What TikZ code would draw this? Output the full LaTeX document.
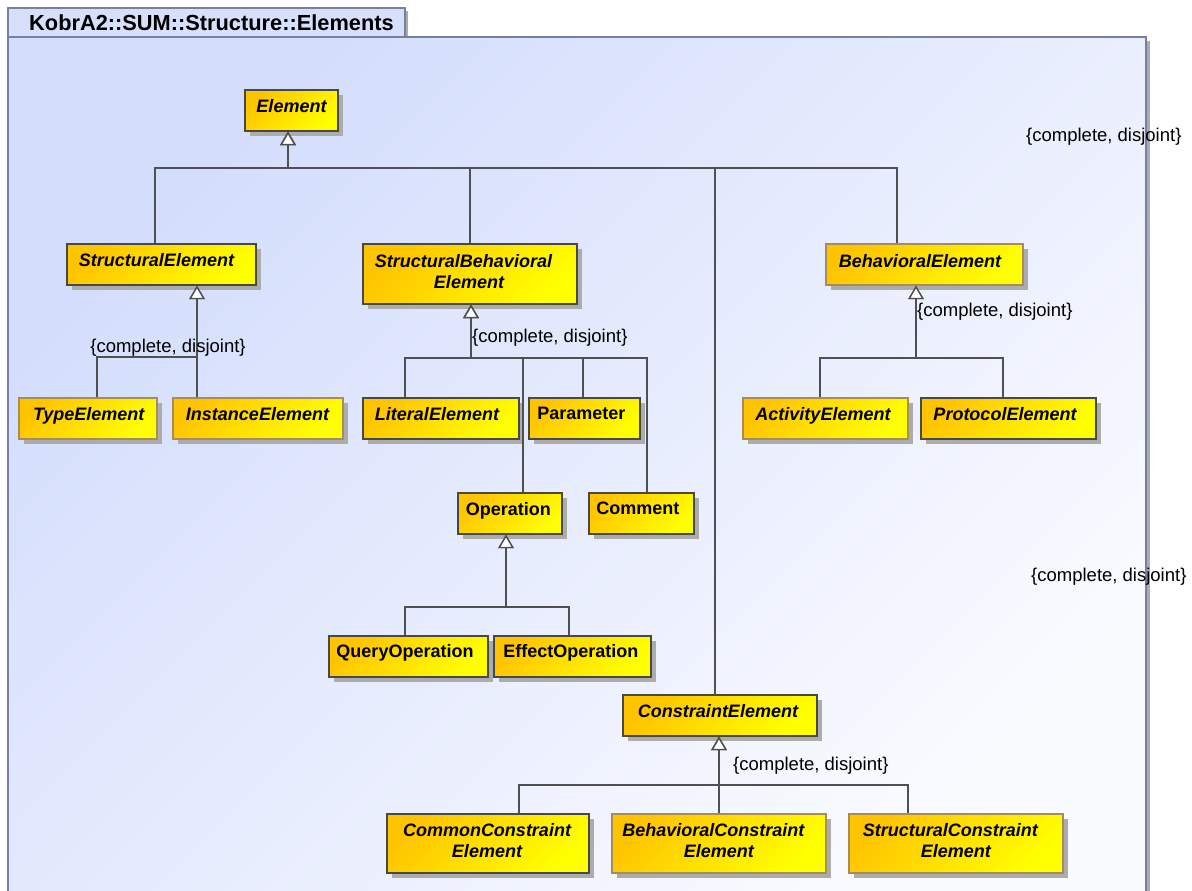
\documentclass[tikz,border=0pt]{standalone}
\usepackage{fontspec}
\setmainfont{Liberation Sans}
\usetikzlibrary{arrows.meta,shadows}

\definecolor{framefillA}{RGB}{211,221,252}
\definecolor{framefillB}{RGB}{250,251,255}
\definecolor{frameline}{RGB}{118,128,165}
\definecolor{tabfill}{RGB}{216,223,250}
\definecolor{boxA}{RGB}{255,196,0}
\definecolor{boxB}{RGB}{255,255,0}
\definecolor{edgedark}{RGB}{72,72,72}
\definecolor{edgebrown}{RGB}{168,140,88}
\definecolor{shadowgray}{RGB}{172,172,172}
\definecolor{linegray}{RGB}{80,80,80}

\tikzset{
  classbox/.style={draw=edgedark, line width=1.3pt, inner sep=0pt,
    top color=boxA, bottom color=boxB, shading angle=45,
    drop shadow={shadow xshift=5pt, shadow yshift=-5pt, fill=shadowgray, opacity=1}},
  brownedge/.style={draw=edgebrown},
  darkedge/.style={draw=edgedark},
  abstracttext/.style={font=\fontsize{18}{21.5}\selectfont\bfseries\itshape,
    inner sep=0pt, anchor=north, align=center},
  concretetext/.style={font=\fontsize{18}{21.5}\selectfont\bfseries,
    inner sep=0pt, anchor=north},
  gsetlabel/.style={font=\fontsize{18.5}{22}\selectfont, inner sep=0pt},
  gen/.style={draw=linegray, line width=1.4pt,
    -{Triangle[open, length=13.5pt, width=15.5pt, fill=white]}},
  branch/.style={draw=linegray, line width=1.4pt},
}

% class box from its corners: name, edge style, x1, y1, x2, y2
\newcommand\classnode[6]{%
  \node[classbox,#2, minimum width={(#5-#3)*1pt}, minimum height={(#6-#4)*1pt}]
    (#1) at ({(#3+#5)/2},{(#4+#6)/2}) {};}

\begin{document}
\begin{tikzpicture}[x=1pt,y=-1pt]
\useasboundingbox (0,0) rectangle (1192,891);
\clip (0,0) rectangle (1192,891);
\fill[white] (0,0) rectangle (1192,891);

% package frame
\fill[shadowgray] (1146,41) rectangle (1150,900);
\fill[shadowgray] (405,11) rectangle (408,37);
\path[top color=framefillA, bottom color=framefillB, shading angle=45,
      draw=frameline, line width=1.2pt] (8,37) rectangle (1146,900);
\path[fill=tabfill, draw=frameline, line width=1.2pt] (8,8) rectangle (405,37);
\node[font=\fontsize{21.8}{24}\selectfont\bfseries, anchor=west, inner sep=0pt]
  (frametitle) at (29,23) {KobrA2::SUM::Structure::Elements};

% classes
\classnode{element}{darkedge}{245}{90}{338}{131}
\classnode{strel}{darkedge}{67}{244}{256}{285}
\classnode{sbel}{darkedge}{363}{244}{577}{304}
\classnode{bhel}{brownedge}{826}{244}{1023}{285}
\classnode{typeel}{brownedge}{19}{398}{157}{439}
\classnode{instel}{brownedge}{173}{398}{343}{439}
\classnode{litel}{darkedge}{363}{398}{519}{439}
\classnode{param}{darkedge}{529}{398}{640}{439}
\classnode{actel}{brownedge}{743}{398}{908}{439}
\classnode{protel}{darkedge}{921}{398}{1096}{439}
\classnode{oper}{darkedge}{458}{493}{562}{534}
\classnode{comment}{darkedge}{589}{493}{694}{534}
\classnode{query}{darkedge}{329}{636}{488}{677}
\classnode{effect}{darkedge}{494}{636}{651}{677}
\classnode{constr}{darkedge}{623}{695}{817}{736}
\classnode{common}{darkedge}{387}{814}{589}{873}
\classnode{behconstr}{brownedge}{612}{814}{826}{873}
\classnode{strconstr}{brownedge}{849}{814}{1063}{873}

% class names
\node[abstracttext] (element-name) at (291.5,99) {Element};
\node[abstracttext] (strel-name) at (156.5,253) {StructuralElement};
\node[abstracttext] (sbel-name) at (469,254) {StructuralBehavioral\hspace*{11pt}\\Element};
\node[abstracttext] (bhel-name) at (920,254) {BehavioralElement};
\node[abstracttext] (typeel-name) at (88.7,407) {TypeElement};
\node[abstracttext] (instel-name) at (257.5,407) {InstanceElement};
\node[abstracttext] (litel-name) at (437,407) {LiteralElement};
\node[concretetext] (param-name) at (581.3,407) {Parameter};
\node[abstracttext] (actel-name) at (823,407) {ActivityElement};
\node[abstracttext] (protel-name) at (1005,407) {ProtocolElement};
\node[concretetext] (oper-name) at (508.3,502) {Operation};
\node[concretetext] (comment-name) at (637.8,502) {Comment};
\node[concretetext] (query-name) at (405,644) {QueryOperation};
\node[concretetext] (effect-name) at (570.8,644) {EffectOperation};
\node[abstracttext] (constr-name) at (718,704) {ConstraintElement};
\node[abstracttext] (common-name) at (487,823) {CommonConstraint\\Element};
\node[abstracttext] (behconstr-name) at (718.8,823) {BehavioralConstraint\hspace*{11pt}\\Element};
\node[abstracttext] (strconstr-name) at (955.8,823) {StructuralConstraint\hspace*{11pt}\\Element};

% generalization junctions
\coordinate (j-element) at (288,168);
\coordinate (j-strel) at (197,357);
\coordinate (j-sbel) at (471,358);
\coordinate (j-bhel) at (916,358);
\coordinate (j-oper) at (506,607);
\coordinate (j-constr) at (719,785);

% Element
\draw[gen] (155,0 |- strel.north) |- (j-element) -- (j-element |- element.south);
\draw[gen] (470,0 |- sbel.north) |- (j-element) -- (j-element |- element.south);
\draw[gen] (715,0 |- constr.north) |- (j-element) -- (j-element |- element.south);
\draw[gen] (897,0 |- bhel.north) |- (j-element) -- (j-element |- element.south);

% StructuralElement
\draw[gen] (97,0 |- typeel.north) |- (j-strel) -- (j-strel |- strel.south);
\draw[gen] (j-strel |- instel.north) -- (j-strel) -- (j-strel |- strel.south);

% StructuralBehavioralElement
\draw[gen] (405,0 |- litel.north) |- (j-sbel) -- (j-sbel |- sbel.south);
\draw[gen] (523,0 |- oper.north) |- (j-sbel) -- (j-sbel |- sbel.south);
\draw[gen] (583,0 |- param.north) |- (j-sbel) -- (j-sbel |- sbel.south);
\draw[gen] (647,0 |- comment.north) |- (j-sbel) -- (j-sbel |- sbel.south);

% BehavioralElement
\draw[gen] (820,0 |- actel.north) |- (j-bhel) -- (j-bhel |- bhel.south);
\draw[gen] (1003,0 |- protel.north) |- (j-bhel) -- (j-bhel |- bhel.south);

% Operation
\draw[gen] (405,0 |- query.north) |- (j-oper) -- (j-oper |- oper.south);
\draw[gen] (569,0 |- effect.north) |- (j-oper) -- (j-oper |- oper.south);

% ConstraintElement
\draw[gen] (519,0 |- common.north) |- (j-constr) -- (j-constr |- constr.south);
\draw[gen] (j-constr |- behconstr.north) -- (j-constr) -- (j-constr |- constr.south);
\draw[gen] (908,0 |- strconstr.north) |- (j-constr) -- (j-constr |- constr.south);

% generalization set constraints
\node[gsetlabel] (gs-strel) at (168,348) {\{complete, disjoint\}};
\node[gsetlabel, anchor=west] (gs-sbel) at (472,338) {\{complete, disjoint\}};
\node[gsetlabel, anchor=west] (gs-bhel) at (917,312) {\{complete, disjoint\}};
\node[gsetlabel, anchor=west] (gs-constr) at (733,766) {\{complete, disjoint\}};
\node[gsetlabel, anchor=west] (gs-top) at (1026,137) {\{complete, disjoint\}};
\node[gsetlabel, anchor=west] (gs-mid) at (1031,577) {\{complete, disjoint\}};
\end{tikzpicture}
\end{document}
